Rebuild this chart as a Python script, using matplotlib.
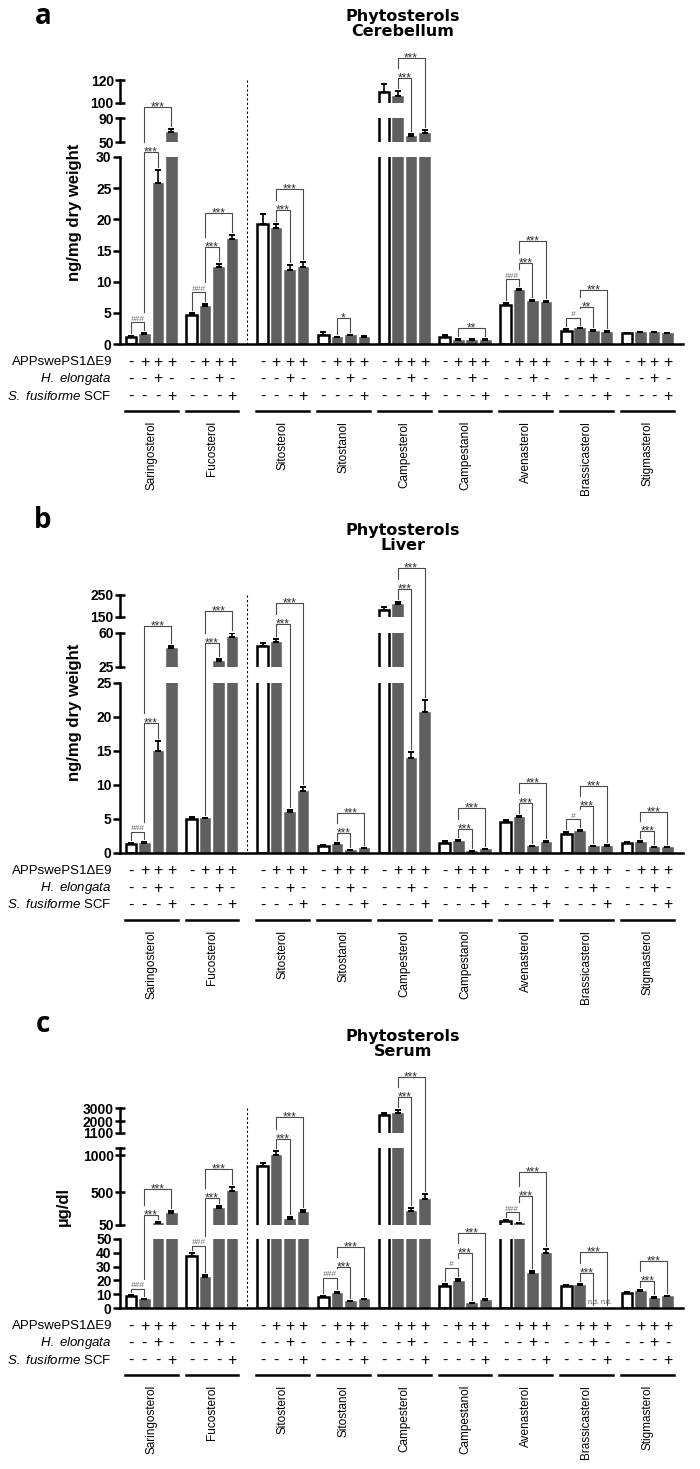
import numpy as np
import matplotlib
matplotlib.use('Agg')
from matplotlib import pyplot as plt
from matplotlib.lines import Line2D
from matplotlib.transforms import blended_transform_factory

plt.rcParams['font.family'] = ['Liberation Sans', 'DejaVu Sans']
plt.rcParams['mathtext.fontset'] = 'custom'
plt.rcParams['mathtext.rm'] = 'Liberation Sans'
plt.rcParams['mathtext.it'] = 'Liberation Sans:italic'

sterols = ['Saringosterol', 'Fucosterol', 'Sitosterol', 'Sitostanol', 'Campesterol',
           'Campestanol', 'Avenasterol', 'Brassicasterol', 'Stigmasterol']
row_labels = ['APPswePS1\u0394E9', r'$\mathit{H.\ elongata}$', r'$\mathit{S.\ fusiforme}$ SCF']
app_signs = ['-', '+', '+', '+']
hel_signs = ['-', '-', '+', '-']
sfu_signs = ['-', '-', '-', '+']

# columns: WT, APPswePS1dE9, + H. elongata, + S. fusiforme SCF
cereb_mean = [[1.1, 1.6, 25.8, 66.7], [4.7, 6.1, 12.4, 16.8], [19.3, 18.6, 11.9, 12.4],
              [1.4, 1.1, 1.4, 1.2], [109.6, 106.0, 60.0, 65.0], [1.1, 0.7, 0.7, 0.7],
              [6.2, 8.6, 6.9, 6.7], [2.1, 2.5, 2.1, 2.0], [1.7, 1.9, 1.9, 1.7]]
cereb_err = [[0.2, 0.15, 2.1, 5.0], [0.3, 0.3, 0.5, 0.7], [1.6, 0.7, 0.8, 0.8],
             [0.5, 0.1, 0.1, 0.1], [6.9, 4.4, 3.3, 5.0], [0.3, 0.1, 0.1, 0.1],
             [0.4, 0.2, 0.2, 0.2], [0.3, 0.1, 0.1, 0.1], [0.1, 0.1, 0.1, 0.1]]
liver_mean = [[1.3, 1.5, 15.0, 44.6], [5.0, 5.1, 31.2, 55.9], [46.6, 50.7, 6.0, 9.1],
              [1.1, 1.3, 0.4, 0.7], [180.0, 209.0, 14.0, 20.8], [1.5, 1.8, 0.3, 0.6],
              [4.5, 5.3, 1.0, 1.6], [2.8, 3.3, 1.0, 1.1], [1.5, 1.6, 0.9, 0.9]]
liver_err = [[0.1, 0.1, 1.5, 2.0], [0.3, 0.1, 1.8, 4.0], [3.1, 3.1, 0.3, 0.6],
             [0.1, 0.1, 0.05, 0.05], [15.0, 9.0, 0.9, 1.7], [0.3, 0.15, 0.05, 0.05],
             [0.4, 0.2, 0.1, 0.1], [0.25, 0.15, 0.05, 0.1], [0.15, 0.1, 0.05, 0.05]]
serum_mean = [[8.8, 6.3, 80, 215], [38, 22.6, 282, 514], [855, 1005, 132, 227],
              [8.0, 10.9, 5.0, 6.2], [2468, 2620, 241, 405], [16.1, 19.7, 3.5, 6.0],
              [105, 75, 25.5, 40], [16.0, 16.5, np.nan, np.nan], [11.0, 12.2, 7.3, 8.5]]
serum_err = [[0.8, 0.5, 10, 25], [2, 1, 27, 54], [41, 55, 27, 28],
             [0.8, 0.8, 0.4, 0.4], [150, 230, 41, 68], [1.5, 1.5, 0.4, 0.5],
             [18, 8, 1.5, 3], [1, 1, 0, 0], [0.8, 0.8, 0.5, 0.5]]

# significance brackets: (sterol, bar from, bar to, label, axis segment, bracket level)
cereb_sig = [(0, 0, 1, '###', 0, 3.5), (0, 1, 2, '***', 0, 30.8), (0, 1, 3, '***', 1, 108.3),
             (1, 0, 1, '###', 0, 8.3), (1, 1, 2, '***', 0, 15.6), (1, 1, 3, '***', 0, 21.0),
             (2, 1, 2, '***', 0, 21.5), (2, 1, 3, '***', 0, 24.9), (3, 1, 2, '*', 0, 4.2),
             (4, 1, 2, '***', 2, 121.7), (4, 1, 3, '***', 2, 139.0), (5, 1, 3, '**', 0, 2.6),
             (6, 0, 1, '###', 0, 10.4), (6, 1, 2, '***', 0, 13.0), (6, 1, 3, '***', 0, 16.5),
             (7, 0, 1, '#', 0, 4.2), (7, 1, 2, '**', 0, 5.9), (7, 1, 3, '***', 0, 8.7)]
liver_sig = [(0, 0, 1, '###', 0, 3.1), (0, 1, 2, '***', 0, 19.1), (0, 1, 3, '***', 1, 67.2),
             (1, 1, 2, '***', 1, 49.7), (1, 1, 3, '***', 2, 177),
             (2, 1, 2, '***', 1, 69.3), (2, 1, 3, '***', 2, 214),
             (3, 1, 2, '***', 0, 2.9), (3, 1, 3, '***', 0, 5.9),
             (4, 1, 2, '***', 2, 277), (4, 1, 3, '***', 2, 373),
             (5, 1, 2, '***', 0, 3.5), (5, 1, 3, '***', 0, 6.6),
             (6, 1, 2, '***', 0, 7.4), (6, 1, 3, '***', 0, 10.3),
             (7, 0, 1, '#', 0, 5.0), (7, 1, 2, '***', 0, 6.9), (7, 1, 3, '***', 0, 9.9),
             (8, 1, 2, '***', 0, 3.2), (8, 1, 3, '***', 0, 6.0)]
serum_sig = [(0, 0, 1, '###', 0, 13.8), (0, 1, 2, '***', 1, 186), (0, 1, 3, '***', 1, 541),
             (1, 0, 1, '###', 0, 45), (1, 1, 2, '***', 1, 418), (1, 1, 3, '***', 1, 814),
             (2, 1, 2, '***', 1, 1223), (2, 1, 3, '***', 1, 1523),
             (3, 0, 1, '###', 0, 22), (3, 1, 2, '***', 0, 30), (3, 1, 3, '***', 0, 44.5),
             (4, 1, 2, '***', 2, 3836), (4, 1, 3, '***', 2, 5355),
             (5, 0, 1, '#', 0, 29.2), (5, 1, 2, '***', 0, 40), (5, 1, 3, '***', 0, 54.7),
             (6, 0, 1, '###', 1, 227), (6, 1, 2, '***', 1, 446), (6, 1, 3, '***', 1, 773),
             (7, 1, 2, '***', 0, 25.5), (7, 1, 3, '***', 0, 40.8),
             (8, 1, 2, '***', 0, 19.7), (8, 1, 3, '***', 0, 34.3)]

cereb_lims = [(0, 30), (50, 90), (100, 120)]
cereb_ticks = [[0, 5, 10, 15, 20, 25, 30], [50, 90], [100, 120]]
liver_lims = [(0, 25), (25, 60), (150, 250)]
liver_ticks = [[0, 5, 10, 15, 20, 25], [25, 60], [150, 250]]
serum_lims = [(0, 50), (50, 1100), (1100, 3000)]
serum_ticks = [[0, 10, 20, 30, 40, 50], [50, 500, 1000, 1100], [1100, 2000, 3000]]
serum_unlabelled = [(1, 1100)]

panels = [
    dict(letter='a', title='Phytosterols\nCerebellum', ylabel='ng/mg dry weight',
         mean=cereb_mean, err=cereb_err, sig=cereb_sig, lims=cereb_lims, ticks=cereb_ticks,
         blank=[], seg_px=[(344, 157), (142, 118), (103, 80)],
         letter_y=17, title_y=24, ylabel_xy=(75, 212)),
    dict(letter='b', title='Phytosterols\nLiver', ylabel='ng/mg dry weight',
         mean=liver_mean, err=liver_err, sig=liver_sig, lims=liver_lims, ticks=liver_ticks,
         blank=[], seg_px=[(853, 683), (667, 633), (617, 595)],
         letter_y=520, title_y=538, ylabel_xy=(75, 712)),
    dict(letter='c', title='Phytosterols\nSerum', ylabel='\u00b5g/dl',
         mean=serum_mean, err=serum_err, sig=serum_sig, lims=serum_lims, ticks=serum_ticks,
         blank=serum_unlabelled, seg_px=[(1308, 1239), (1225, 1148), (1133, 1108)],
         letter_y=1025, title_y=1044, ylabel_xy=(63, 1207)),
]

W, H = 700.0, 1469.0
AX_L, AX_R = 120, 683
BAR_W = 0.78
GRAY = '#5f5f5f'


def bar_x(g, j):
    return g * 4.5 + j + (0.75 if g >= 2 else 0)


def fy(py):
    return 1 - py / H


fig = plt.figure(figsize=(7.0, 14.69), dpi=100)
inv = fig.transFigure.inverted()


def frac_y(ax, v):
    return inv.transform(ax.transData.transform((0, v)))[1]


def frac_x(ax, x):
    return inv.transform(ax.transData.transform((x, 0)))[0]


for p in panels:
    segs = []
    n = len(sterols)
    xs = [bar_x(g, j) for g in range(n) for j in range(4)]
    hs = np.array([p['mean'][g][j] for g in range(n) for j in range(4)], dtype=float)
    es = np.array([p['err'][g][j] for g in range(n) for j in range(4)], dtype=float)
    fcs = ['white' if j == 0 else GRAY for g in range(n) for j in range(4)]
    ecs = ['black' if j == 0 else '#707070' for g in range(n) for j in range(4)]
    lws = [1.8 if j == 0 else 0.5 for g in range(n) for j in range(4)]

    for k, ((pb, pt), lim, ticks) in enumerate(zip(p['seg_px'], p['lims'], p['ticks'])):
        ax = fig.add_axes([AX_L / W, fy(pb), (AX_R - AX_L) / W, (pb - pt) / H])
        ax.bar(xs, hs, width=BAR_W, color=fcs, edgecolor=ecs, linewidth=lws, zorder=2)
        # only the error bars that reach into this segment
        show = np.where(hs + es > lim[0], hs, np.nan)
        ax.errorbar(xs, show, yerr=[np.zeros(len(es)), es], fmt='none', ecolor='black',
                    elinewidth=1.2, capsize=2.4, capthick=1.4, zorder=3)
        ax.set_xlim(-0.81, 40.9)
        ax.set_ylim(*lim)
        ax.patch.set_visible(False)
        for s in ['top', 'right']:
            ax.spines[s].set_visible(False)
        ax.spines['bottom'].set_visible(k == 0)
        ax.spines['bottom'].set_linewidth(1.8)
        ax.spines['left'].set_linewidth(1.8)
        ax.set_xticks([])
        ax.set_yticks(ticks)
        labels = ['' if (k, t) in p['blank'] else str(t) for t in ticks]
        ax.set_yticklabels(labels, fontsize=10, fontweight='bold')
        if k == 0:
            ax.tick_params(axis='y', direction='out', length=5, width=1.8, pad=1)
        else:
            ax.tick_params(axis='y', direction='inout', length=7, width=1.8, pad=1)
        segs.append(ax)

    ax0 = segs[0]
    base = p['seg_px'][0][0]
    top_px = p['seg_px'][-1][1]
    bt = blended_transform_factory(ax0.transData, fig.transFigure)

    # dashed separator between seaweed sterols and the rest
    dash_x = (bar_x(1, 3) + bar_x(2, 0)) / 2
    fig.add_artist(Line2D([dash_x, dash_x], [fy(top_px), fy(base)], transform=bt,
                          color='black', lw=0.8, ls=(0, (2, 2))))

    # n.d. markers
    for g in range(n):
        for j in range(4):
            if np.isnan(p['mean'][g][j]):
                fig.text(frac_x(ax0, bar_x(g, j)), fy(base - 2), 'n.d.', ha='center',
                         va='bottom', fontsize=5, color='#555555')

    # treatment table
    for r, (lab, signs) in enumerate(zip(row_labels, [app_signs, hel_signs, sfu_signs])):
        yy = fy(base + 18 + 17 * r)
        fig.text(112 / W, yy, lab, ha='right', va='center', fontsize=9.5)
        for g in range(n):
            for j in range(4):
                fig.text(frac_x(ax0, bar_x(g, j)), yy, signs[j], ha='center', va='center',
                         fontsize=11.5)
    for g, name in enumerate(sterols):
        x0 = bar_x(g, 0) - 0.45
        x1 = bar_x(g, 3) + 0.45
        fig.add_artist(Line2D([x0, x1], [fy(base + 67)] * 2, transform=bt, color='black', lw=1.8))
        fig.text(frac_x(ax0, (x0 + x1) / 2), fy(base + 77), name, rotation=90, ha='center',
                 va='top', fontsize=8.5)

    # significance brackets
    def visible_top(v):
        for ax, (lo, hi) in reversed(list(zip(segs, p['lims']))):
            if v >= lo:
                return frac_y(ax, min(v, hi))
        return frac_y(segs[0], 0)

    drawn = []
    sig = sorted(p['sig'], key=lambda b: frac_y(segs[b[4]], b[5]))
    for g, i, j, lab, seg, level in sig:
        top = frac_y(segs[seg], level)
        bottoms = []
        for b in (i, j):
            v = p['mean'][g][b]
            v = (0 if np.isnan(v) else v) + p['err'][g][b]
            bot = visible_top(v) + 3 / H
            for (gg, ii, jj, tt) in drawn:
                if gg == g and ii <= b <= jj and tt < top:
                    bot = max(bot, tt + 10 / H)
            bottoms.append(min(bot, top))
        xi, xj = frac_x(ax0, bar_x(g, i)), frac_x(ax0, bar_x(g, j))
        fig.add_artist(Line2D([xi, xi, xj, xj], [bottoms[0], top, top, bottoms[1]],
                              transform=fig.transFigure, color='#4a4a4a', lw=0.8))
        if lab.startswith('*'):
            fig.text((xi + xj) / 2, top - 3.5 / H, lab, ha='center', va='baseline',
                     fontsize=8.5, color='#333333')
        else:
            fig.text((xi + xj) / 2, top + 1.5 / H, lab, ha='center', va='baseline',
                     fontsize=6, color='#6b6b6b', style='italic')
        drawn.append((g, i, j, top))

    fig.text(403 / W, fy(p['title_y']), p['title'], ha='center', va='center', fontsize=11.5,
             fontweight='bold', family='DejaVu Sans', linespacing=1.05)
    fig.text(43 / W, fy(p['letter_y']), p['letter'], ha='center', va='center', fontsize=20,
             fontweight='bold', family='Open Sans')
    fig.text(p['ylabel_xy'][0] / W, fy(p['ylabel_xy'][1]), p['ylabel'], rotation=90,
             ha='center', va='center', fontsize=12, fontweight='bold')

fig.savefig('out.png', dpi=100)
